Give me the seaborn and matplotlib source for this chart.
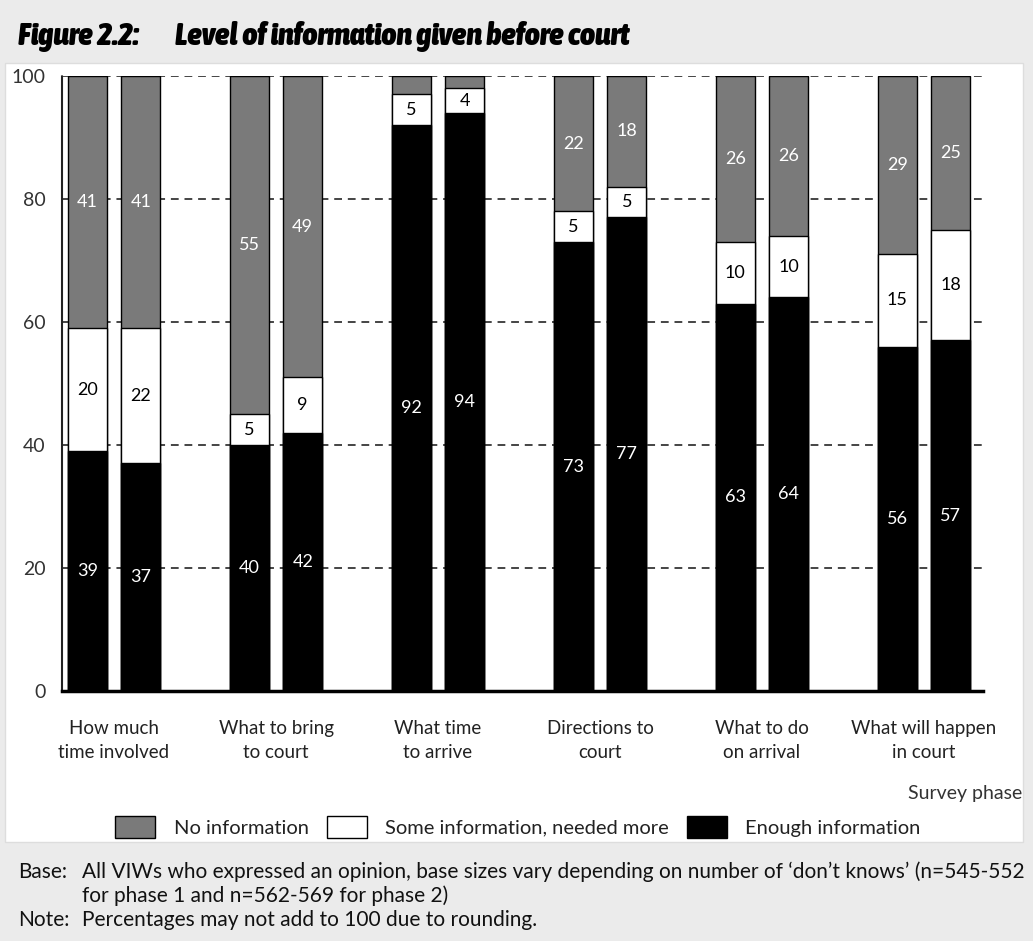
import matplotlib
matplotlib.use("Agg")
import matplotlib.pyplot as plt
from matplotlib.patches import Rectangle, Patch
from matplotlib import font_manager as fm
import seaborn as sns
import pandas as pd

# ---------------- data ----------------
categories = ["How much\ntime involved", "What to bring\nto court", "What time\nto arrive",
              "Directions to\ncourt", "What to do\non arrival", "What will happen\nin court"]
phases = ["Phase 1", "Phase 2"]
enough_p1 = [39, 40, 92, 73, 63, 56]
enough_p2 = [37, 42, 94, 77, 64, 57]
some_p1 = [20, 5, 5, 5, 10, 15]
some_p2 = [22, 9, 4, 5, 10, 18]
none_p1 = [41, 55, 3, 22, 26, 29]
none_p2 = [41, 49, 2, 18, 26, 25]
series_labels = ["No information", "Some information, needed more", "Enough information"]
FULL = 100  # stacks are shown as full 100% bars

rows = []
for ph, en, so, no in [("Phase 1", enough_p1, some_p1, none_p1), ("Phase 2", enough_p2, some_p2, none_p2)]:
    for c, e, s, n in zip(categories, en, so, no):
        rows.append(dict(category=c, phase=ph, enough=e, some=s, none=n,
                         cum_some=e + s, total=max(FULL, e + s + n)))
df = pd.DataFrame(rows)

# ---------------- fonts ----------------
sns.set_theme(style="white")
plt.rcParams["font.family"] = ["Lato", "DejaVu Sans"]


def pick_title_font():
    cands = []
    for f in fm.fontManager.ttflist:
        w = f.weight if isinstance(f.weight, int) else 700 if "bold" in str(f.weight) else 400
        st = str(f.stretch)
        cond = st in ("condensed", "semi-condensed", "extra-condensed", "ultra-condensed") or \
            (isinstance(f.stretch, int) and f.stretch < 500) or "Condensed" in f.name or "Narrow" in f.name
        ital = f.style in ("italic", "oblique")
        if w >= 600 and ital and cond:
            score = 0 if "Narrow" in f.name else 1
            cands.append((score, -w, f.fname))
    if cands:
        cands.sort()
        return fm.FontProperties(fname=cands[0][2])
    return fm.FontProperties(family="DejaVu Sans", weight="bold", style="italic")


tprops = pick_title_font()

GREY = "#7a7a7a"
W, H = 1033, 941
fig = plt.figure(figsize=(W / 100, H / 100), dpi=100, facecolor="#ebebeb")
fig.patches.append(Rectangle((5 / W, 1 - 842 / H), (1023 - 5) / W, (842 - 63) / H,
                             transform=fig.transFigure, facecolor="white",
                             edgecolor="#dddddd", zorder=-10))

ax = fig.add_axes([62 / W, 1 - 691 / H, (983 - 62) / W, (691 - 76) / H])
ax.set_facecolor("none")

for col, color in [("total", GREY), ("cum_some", "white"), ("enough", "black")]:
    sns.barplot(data=df, x="category", y=col, hue="phase", order=categories,
                hue_order=phases, palette={p: color for p in phases}, saturation=1,
                width=0.66, gap=0.27, edgecolor="black", linewidth=1.0,
                legend=False, ax=ax, zorder=3)

ax.set_xlim(-0.321, 5.364)
ax.set_ylim(0, 100)
ax.set_yticks([0, 20, 40, 60, 80, 100])
ax.tick_params(axis="y", length=0, pad=12, labelsize=14, labelcolor="#333333")
ax.tick_params(axis="x", length=0, pad=21, labelsize=13.5, labelcolor="#222222")
for lbl in ax.get_xticklabels():
    lbl.set_linespacing(1.5)
ax.set_xlabel("")
ax.set_ylabel("")
ax.yaxis.grid(True, linestyle=(0, (4, 3)), color="#444444", linewidth=1.4, zorder=0)
ax.set_axisbelow(True)
for s in ["top", "right"]:
    ax.spines[s].set_visible(False)
ax.spines["left"].set_color("#222222")
ax.spines["left"].set_linestyle((0, (1, 1)))
ax.spines["left"].set_linewidth(1.5)
ax.spines["bottom"].set_color("black")
ax.spines["bottom"].set_linewidth(2.5)
ax.spines["bottom"].set_zorder(5)

# value labels
conts = ax.containers  # 0,1: grey ; 2,3: white ; 4,5: black
for pi, ph in enumerate(phases):
    sub = df[df.phase == ph].reset_index(drop=True)
    bars = conts[4 + pi].patches
    for i, b in enumerate(bars):
        xc = b.get_x() + b.get_width() / 2
        e, s, n = sub.loc[i, "enough"], sub.loc[i, "some"], sub.loc[i, "none"]
        top = sub.loc[i, "total"]
        ax.text(xc, e / 2, f"{e}", ha="center", va="center", color="white", fontsize=13, zorder=6)
        ax.text(xc, e + s / 2, f"{s}", ha="center", va="center", color="black", fontsize=13, zorder=6)
        if n >= 4:
            ax.text(xc, (e + s + top) / 2, f"{n}", ha="center", va="center", color="white",
                    fontsize=13, zorder=6)

# title
t1 = fig.text(18 / W, 1 - 37 / H, "Figure 2.2:", fontproperties=tprops, fontsize=23,
              va="center", ha="left", color="black")
t2 = fig.text(175 / W, 1 - 37 / H, "Level of information given before court",
              fontproperties=tprops, fontsize=23, va="center", ha="left", color="black")
# shrink title if the available font is too wide
r = fig.canvas.get_renderer()
bb1 = t1.get_window_extent(r)
if bb1.x1 > 165:
    f = 23 * (165 - 18) / (bb1.x1 - 18)
    t1.set_fontsize(f)
    t2.set_fontsize(f)
bb2 = t2.get_window_extent(r)
if bb2.x1 > 640:
    f = t2.get_fontsize() * (640 - 175) / (bb2.x1 - 175)
    t1.set_fontsize(min(f, t1.get_fontsize()))
    t2.set_fontsize(f)

fig.text(1022 / W, 1 - 793 / H, "Survey phase", fontsize=14, ha="right", va="center", color="#333333")

# legend
handles = [Patch(facecolor=GREY, edgecolor="black", linewidth=1),
           Patch(facecolor="white", edgecolor="black", linewidth=1),
           Patch(facecolor="black", edgecolor="black", linewidth=1)]
fig.legend(handles, series_labels, loc="center", bbox_to_anchor=(518 / W, 1 - 827 / H),
           ncol=3, frameon=False, fontsize=14.5, handlelength=2.0, handleheight=1.35,
           handletextpad=0.9, columnspacing=0.9, labelcolor="#222222")

# footnotes
fs = 15
fig.text(18 / W, 1 - 872 / H, "Base:", fontsize=fs, va="center", color="#111111")
fig.text(82 / W, 1 - 872 / H,
         "All VIWs who expressed an opinion, base sizes vary depending on number of \u2018don\u2019t knows\u2019 (n=545-552",
         fontsize=fs, va="center", color="#111111")
fig.text(82 / W, 1 - 896 / H, "for phase 1 and n=562-569 for phase 2)", fontsize=fs,
         va="center", color="#111111")
fig.text(18 / W, 1 - 920 / H, "Note:", fontsize=fs, va="center", color="#111111")
fig.text(82 / W, 1 - 920 / H, "Percentages may not add to 100 due to rounding.", fontsize=fs,
         va="center", color="#111111")

fig.savefig("out.png", dpi=100, facecolor=fig.get_facecolor())
